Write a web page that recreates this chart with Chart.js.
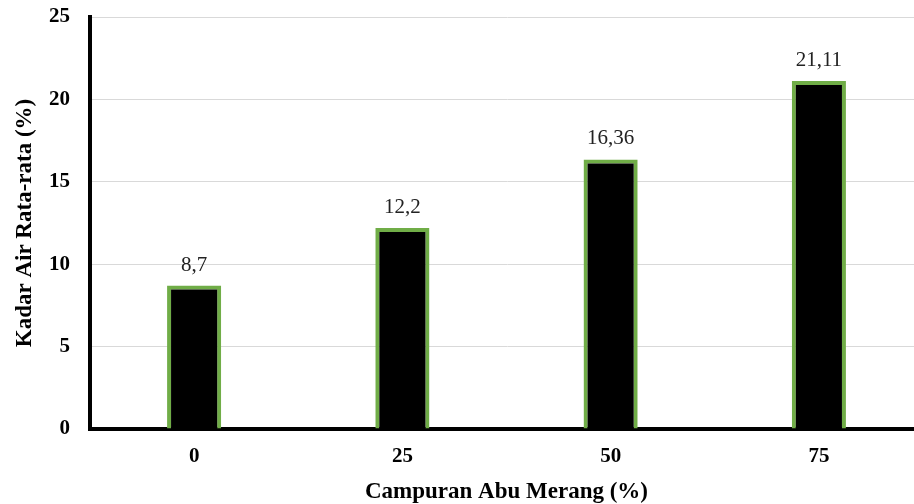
<!DOCTYPE html>
<html>
<head>
<meta charset="utf-8">
<script src="https://cdn.jsdelivr.net/npm/chart.js@4"></script>
<style>
  body { margin: 0; background: #fff; overflow: hidden; }
</style>
</head>
<body>
<canvas id="barChart" width="923" height="504"></canvas>
<script>
const categories = ["0", "25", "50", "75"]
const values = [8.7, 12.2, 16.36, 21.11]
const valueLabels = ["8,7", "12,2", "16,36", "21,11"]
const yTicks = [0, 5, 10, 15, 20, 25]

const green = "#70ad47"
const serif = "'Liberation Serif', 'Times New Roman', serif"

// labels over each bar
const barLabels = {
  id: "barLabels",
  afterDatasetsDraw(chart) {
    const ctx = chart.ctx
    const meta = chart.getDatasetMeta(0)
    ctx.save()
    ctx.font = "21px " + serif
    ctx.fillStyle = "#222"
    ctx.textAlign = "center"
    ctx.textBaseline = "alphabetic"
    meta.data.forEach((bar, i) => {
      ctx.fillText(valueLabels[i], bar.x, bar.y - 15)
    })
    ctx.restore()
  }
}

new Chart(document.getElementById("barChart").getContext("2d"), {
  type: "bar",
  data: {
    labels: categories,
    datasets: [{
      data: values,
      backgroundColor: "#000",
      borderColor: green,
      borderWidth: 4,
      barPercentage: 0.26,
      categoryPercentage: 1
    }]
  },
  options: {
    responsive: false,
    animation: false,
    layout: { padding: { top: 17, right: 0, left: 0, bottom: 0 } },
    plugins: { legend: { display: false }, tooltip: { enabled: false } },
    scales: {
      x: {
        grid: { display: false },
        border: { color: "#000", width: 4 },
        ticks: { color: "#000", font: { family: serif, size: 21, weight: "bold" }, padding: 7 },
        title: {
          display: true,
          text: "Campuran Abu Merang (%)",
          color: "#000",
          font: { family: serif, size: 23, weight: "bold" },
          padding: { top: 10, bottom: -2 }
        },
        afterFit: scale => { scale.height = 75 }
      },
      y: {
        min: 0,
        max: 25,
        afterBuildTicks: scale => { scale.ticks = yTicks.map(v => ({ value: v })) },
        grid: { color: "#d9d9d9", lineWidth: 1, drawTicks: false },
        border: { color: "#000", width: 4 },
        ticks: { color: "#000", font: { family: serif, size: 21, weight: "bold" }, padding: 20 },
        title: {
          display: true,
          text: "Kadar Air Rata-rata (%)",
          color: "#000",
          font: { family: serif, size: 23, weight: "bold" },
          padding: { top: 11, bottom: 4 }
        },
        afterFit: scale => {
          scale.width = 90
          scale.paddingTop = 0
          scale.paddingBottom = 0
        }
      }
    }
  },
  plugins: [barLabels]
})
</script>
</body>
</html>
